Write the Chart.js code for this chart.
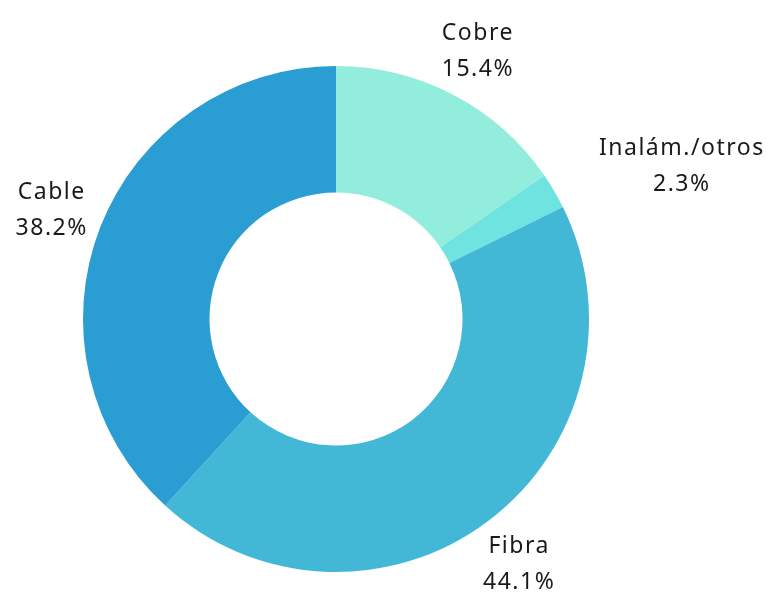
<!DOCTYPE html>
<html>
<head>
  <meta charset="utf-8">
  <title>Conexiones por tecnología</title>
  <script src="https://cdn.jsdelivr.net/npm/chart.js"></script>
  <style>
    body { margin: 0; background: #fff; }
    #wrap { width: 780px; height: 597px; position: relative; }
  </style>
</head>
<body>
<div id="wrap"><canvas id="donut"></canvas></div>
<script>
  const labels = ['Cobre', 'Inalám./otros', 'Fibra', 'Cable'];
  const shares = [15.4, 2.3, 44.1, 38.2];
  const colors = ['#93EDDD', '#6FE3E0', '#42B7D6', '#2A9DD3'];
  const labelAlign = ['center', 'left', 'center', 'center'];

  // draws "name / pct" outside each slice, lines centred on each other
  const outsideLabels = {
    id: 'outsideLabels',
    afterDatasetsDraw(chart) {
      const ctx = chart.ctx;
      const meta = chart.getDatasetMeta(0);
      ctx.save();
      ctx.font = '23px "Noto Sans", Lato, sans-serif';
      ctx.letterSpacing = '1.5px';
      ctx.fillStyle = '#1a1a1a';
      ctx.textBaseline = 'middle';
      ctx.textAlign = 'center';
      meta.data.forEach((arc, i) => {
        const p = arc.getProps(['x', 'y', 'startAngle', 'endAngle', 'outerRadius'], true);
        const mid = (p.startAngle + p.endAngle) / 2;
        const r = p.outerRadius + 52;
        let x = p.x + Math.cos(mid) * r;
        const y = p.y + Math.sin(mid) * r;
        const pct = shares[i].toFixed(1) + '%';
        if (labelAlign[i] === 'left') {
          const w = Math.max(ctx.measureText(labels[i]).width, ctx.measureText(pct).width);
          x += w / 2;
        }
        ctx.fillText(labels[i], x, y - 16);
        ctx.fillText(pct, x, y + 20);
      });
      ctx.restore();
    }
  };

  new Chart(document.getElementById('donut'), {
    type: 'doughnut',
    data: {
      labels: labels,
      datasets: [{
        data: shares,
        backgroundColor: colors,
        borderWidth: 0
      }]
    },
    options: {
      responsive: true,
      maintainAspectRatio: false,
      animation: false,
      cutout: '50%',
      layout: { padding: { left: 83, right: 191, top: 66, bottom: 25 } },
      plugins: {
        legend: { display: false },
        tooltip: { enabled: false }
      }
    },
    plugins: [outsideLabels]
  });
</script>
</body>
</html>
